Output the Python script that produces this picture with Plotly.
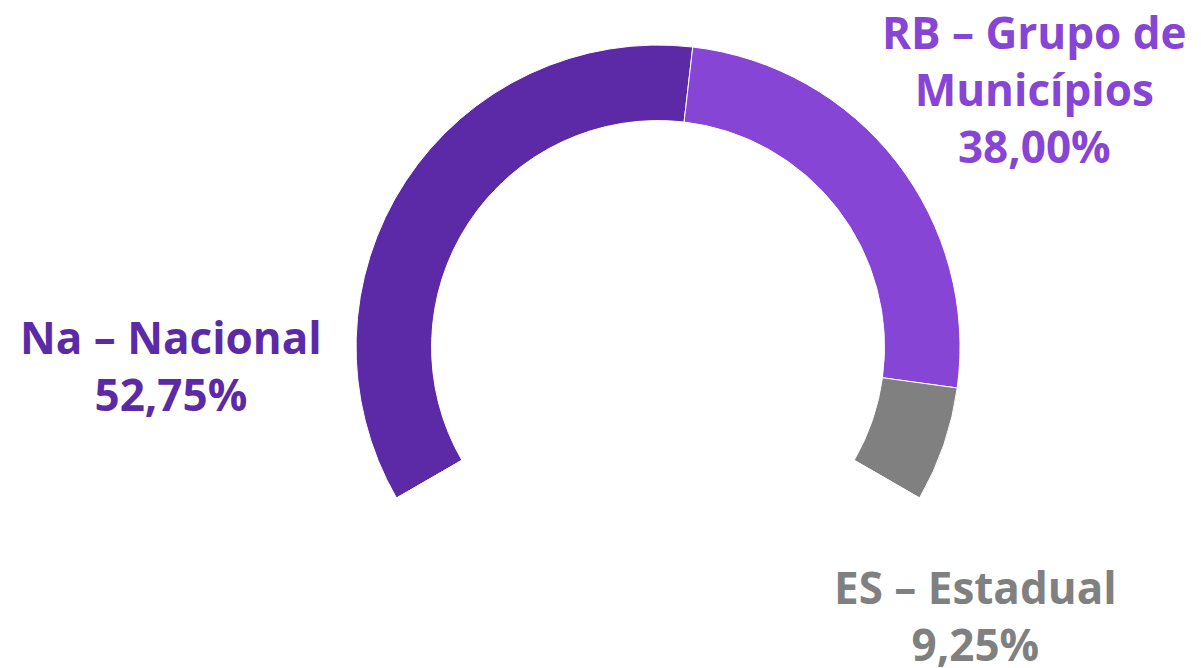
import plotly.graph_objects as go

labels = ["Na – Nacional", "RB – Grupo de Municípios", "ES – Estadual"]
values = [52.75, 38.00, 9.25]
value_text = ["52,75%", "38,00%", "9,25%"]
colors = ["#5C2AA7", "#8745D5", "#808080"]

# gauge covers 240 degrees: the hidden slice is half of the visible total
hidden = sum(values) / 2

fig = go.Figure()
fig.add_trace(go.Pie(
    labels=labels + ["hidden"],
    values=values + [hidden],
    hole=0.75,
    sort=False,
    direction="clockwise",
    rotation=-120,
    marker=dict(colors=colors + ["rgba(0,0,0,0)"], line=dict(color="white", width=1)),
    textinfo="none",
    hoverinfo="skip",
    showlegend=False,
    domain=dict(x=[0.2898, 0.7927], y=[0.0404, 0.9446]),
))

font_family = "Open Sans"
ann = [
    dict(text=f"Na – Nacional<br>{value_text[0]}", x=0.1357, y=0.4655, size=44, color=colors[0]),
    dict(text=f"RB – Grupo de<br>Municípios<br>{value_text[1]}", x=0.8551, y=0.878, size=44, color=colors[1]),
    dict(text=f"ES – Estadual<br>{value_text[2]}", x=0.8052, y=0.09, size=44, color=colors[2]),
]
for a in ann:
    fig.add_annotation(
        text=a["text"], x=a["x"], y=a["y"], xref="paper", yref="paper",
        xanchor="center", yanchor="middle", showarrow=False, align="center",
        font=dict(family=font_family, size=a["size"], color=a["color"], weight=700),
    )

fig.update_layout(
    width=1201, height=668,
    margin=dict(l=0, r=0, t=0, b=0),
    paper_bgcolor="white", plot_bgcolor="white",
)
fig.write_html("out.html")
